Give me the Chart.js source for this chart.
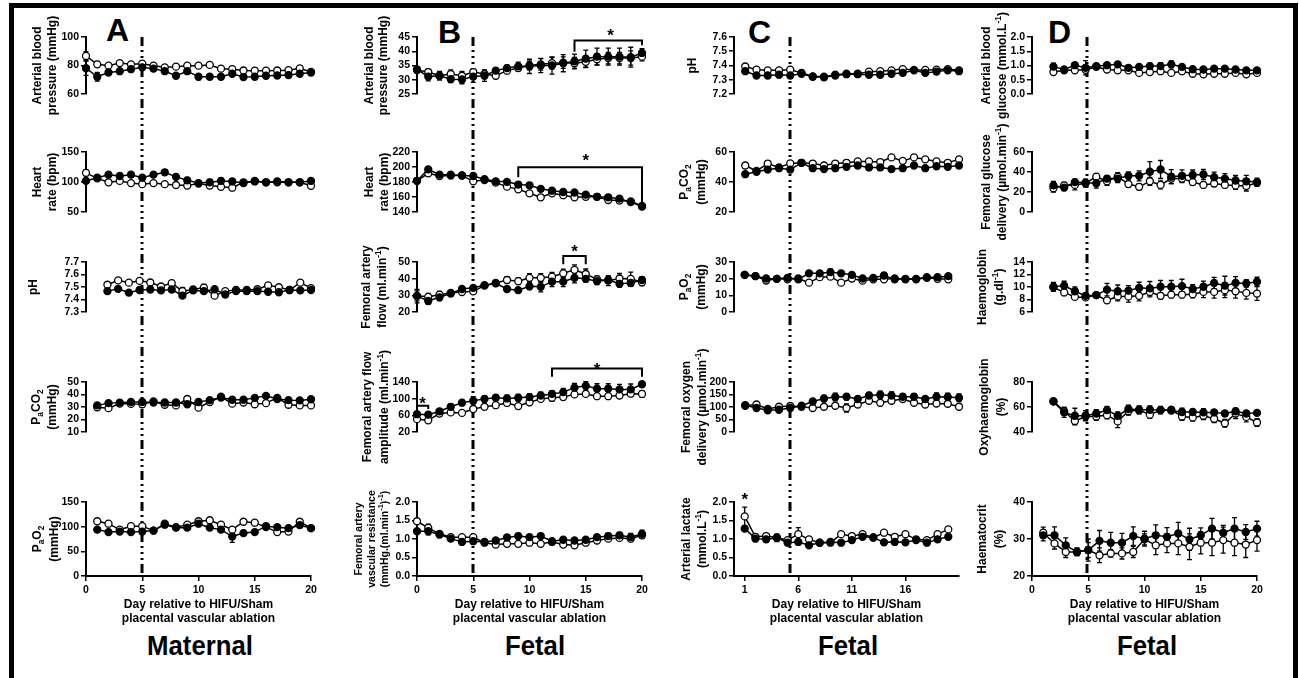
<!DOCTYPE html>
<html>
<head>
<meta charset="utf-8">
<script src="https://cdn.jsdelivr.net/npm/chart.js@4.4.0/dist/chart.umd.min.js"></script>
<style>
  body { margin: 0; background: #fff; width: 1299px; height: 678px; overflow: hidden; position: relative; }
  #frame { position: absolute; left: 9px; top: 3px; width: 1279px; height: 700px; border: 5px solid #000; }
  canvas { position: absolute; }
  .lbl { position: absolute; font-family: "Liberation Sans", Arial, sans-serif; font-weight: bold; color: #000; line-height: 1; white-space: nowrap; }
  .letter { font-size: 32px; }
  .group { font-size: 28px; width: 200px; text-align: center; transform: scaleX(0.92); }
</style>
</head>
<body>
<div id="frame"></div>
<div class="lbl letter" style="left:106px;top:14px">A</div>
<div class="lbl letter" style="left:438px;top:16px">B</div>
<div class="lbl letter" style="left:748px;top:16px">C</div>
<div class="lbl letter" style="left:1048px;top:16px">D</div>
<div class="lbl group" style="left:100px;top:632px">Maternal</div>
<div class="lbl group" style="left:435px;top:632px">Fetal</div>
<div class="lbl group" style="left:748px;top:632px">Fetal</div>
<div class="lbl group" style="left:1047px;top:632px">Fetal</div>
<script>
// days on the x axis
const days0 = [0, 1, 2, 3, 4, 5, 6, 7, 8, 9, 10, 11, 12, 13, 14, 15, 16, 17, 18, 19, 20];
const days1 = [1, 2, 3, 4, 5, 6, 7, 8, 9, 10, 11, 12, 13, 14, 15, 16, 17, 18, 19, 20];
const xTicksDay = [0, 5, 10, 15, 20];
const xTicksC = [1, 6, 11, 16];
const xTitle = ['Day relative to HIFU/Sham', 'placental vascular ablation'];

// A - maternal
const aBpHifu = [78.1, 72.1, 75.1, 76.0, 77.4, 78.7, 77.8, 76.0, 72.8, 76.0, 72.1, 72.1, 72.1, 74.2, 71.9, 72.1, 72.8, 73.0, 73.3, 74.2, 75.1];
const aBpHifuErr = [5, 3, 2, 1, 1, 1.5, 1, 1, 1, 1, 2, 1, 1, 1, 1, 1, 1, 1, 1, 1, 1];
const aBpSham = [86.7, 80.8, 79.9, 81.7, 80.8, 81.3, 79.9, 78.7, 79.2, 79.9, 79.9, 80.4, 77.8, 77.4, 76.5, 76.4, 76.4, 76.5, 76.7, 78.0, 75.5];
const aBpShamErr = [3, 2, 1.5, 1.5, 1.5, 2, 1.5, 1.5, 1, 1, 1, 1, 1.5, 1.5, 1.5, 1.5, 1.5, 1.5, 1.5, 1.5, 1.5];

const aHrHifu = [101.8, 107.2, 112.2, 110.0, 112.2, 107.2, 112.2, 116.2, 108.6, 102.7, 98.2, 99.5, 101.8, 100.9, 98.2, 101.8, 99.5, 100.9, 99.5, 99.5, 101.8];
const aHrHifuErr = [4, 4, 3, 3, 3, 4, 3, 4, 4, 5, 4, 5, 5, 4, 3, 3, 3, 3, 3, 3, 4];
const aHrSham = [115.3, 106.0, 99.5, 101.8, 98.2, 96.4, 98.2, 96.4, 95.0, 94.0, 97.3, 94.0, 91.9, 90.5, 99.5, 100.9, 99.5, 99.5, 99.5, 99.5, 93.7];
const aHrShamErr = [5, 3, 5, 3, 3, 3, 3, 3, 3, 3, 3, 4, 3, 3, 3, 3, 3, 3, 3, 3, 3];

const aPhHifu = [7.467, 7.485, 7.455, 7.476, 7.480, 7.473, 7.480, 7.431, 7.473, 7.467, 7.482, 7.440, 7.467, 7.467, 7.467, 7.462, 7.458, 7.476, 7.473, 7.476];
const aPhHifuErr = [0.01, 0.01, 0.01, 0.01, 0.01, 0.01, 0.01, 0.015, 0.01, 0.01, 0.01, 0.01, 0.01, 0.01, 0.01, 0.01, 0.01, 0.01, 0.01, 0.01];
const aPhSham = [7.518, 7.553, 7.535, 7.549, 7.536, 7.504, 7.531, 7.467, 7.480, 7.495, 7.431, 7.467, 7.476, 7.476, 7.482, 7.513, 7.498, 7.476, 7.535, 7.491];
const aPhShamErr = [0.015, 0.01, 0.01, 0.01, 0.01, 0.01, 0.01, 0.03, 0.015, 0.025, 0.015, 0.01, 0.02, 0.01, 0.01, 0.01, 0.01, 0.01, 0.01, 0.01];

const aCo2Hifu = [31.3, 33.1, 33.5, 34.0, 34.0, 33.6, 33.6, 33.6, 32.2, 34.0, 35.5, 37.6, 35.8, 35.8, 37.3, 38.9, 36.4, 35.5, 35.3, 36.2];
const aCo2HifuErr = [1, 1, 1, 1, 1, 1.5, 1, 2, 1, 1, 1, 1, 1, 1, 1, 1, 1.5, 1, 1, 1];
const aCo2Sham = [29.8, 29.1, 32.7, 32.5, 32.2, 34.4, 31.8, 31.3, 36.4, 29.5, 34.0, 38.2, 32.7, 33.6, 32.2, 33.1, 37.3, 31.8, 31.3, 31.3];
const aCo2ShamErr = [1, 1, 1, 1, 2, 1, 1, 1, 1, 1.5, 1, 1, 1, 1, 1, 1, 1, 1, 1, 1];

const aO2Hifu = [94, 89, 90, 89, 90, 92, 104, 98, 98, 106, 98, 94, 80, 87, 89, 101, 99, 97, 103, 97];
const aO2HifuErr = [4, 3, 3, 3, 4, 3, 3, 3, 3, 3, 3, 3, 12, 3, 3, 3, 3, 3, 3, 3];
const aO2Sham = [111, 106, 94, 101, 101, 92, 106, 99, 104, 111, 113, 104, 94, 110, 108, 99, 89, 90, 110, 97];
const aO2ShamErr = [4, 4, 3, 4, 4, 3, 4, 3, 3, 4, 4, 3, 4, 5, 4, 3, 3, 3, 3, 3];

// B - fetal haemodynamics
const bBpHifu = [33.6, 31.1, 31.4, 30.2, 30.1, 31.1, 31.4, 33.2, 34.1, 34.7, 34.7, 35.0, 35.0, 35.8, 36.5, 37.4, 38.1, 38.1, 38.1, 37.9, 39.4];
const bBpHifuErr = [1, 1.5, 1.5, 1.2, 1.5, 2, 2, 1, 1, 1.5, 2.5, 2.5, 3, 3, 2.5, 3, 3, 3, 3, 3.5, 1.5];
const bBpSham = [33.4, 32.7, 31.4, 32.0, 31.4, 32.7, 32.0, 31.4, 33.2, 34.1, 35.0, 35.4, 35.8, 36.0, 35.8, 36.3, 37.2, 37.6, 37.6, 37.6, 38.1];
const bBpShamErr = [1, 1, 1, 1.5, 1.5, 1, 1.5, 1, 1, 1, 1.5, 2, 2, 2, 2, 2, 2, 2, 2, 2.5, 1.5];

const bHrHifu = [181.6, 196.9, 189.8, 189.8, 188.7, 188.0, 183.7, 180.9, 180.2, 176.6, 175.6, 170.9, 168.4, 166.7, 166.0, 163.1, 160.3, 159.6, 157.8, 153.2, 147.1];
const bHrHifuErr = [3, 3, 3, 3, 2, 2, 2, 2, 2, 2, 2, 2, 2, 2, 2, 2, 2, 2, 2, 2, 3];
const bHrSham = [181.6, 191.6, 188.0, 188.7, 188.7, 180.9, 182.7, 179.1, 173.8, 170.2, 164.9, 159.6, 164.9, 162.4, 159.6, 160.3, 160.3, 156.0, 155.3, 154.2, 148.2];
const bHrShamErr = [3, 3, 3, 3, 2, 3, 2, 2, 2, 2, 2, 2, 2, 2, 2, 2, 2, 2, 2, 2, 3];

const bFlowHifu = [29.5, 26.6, 28.8, 31.1, 33.8, 34.5, 36.1, 37.2, 33.8, 33.1, 35.4, 35.1, 38.2, 38.2, 40.5, 39.9, 38.5, 39.2, 36.9, 37.4, 39.2];
const bFlowHifuErr = [4, 2, 2, 1.5, 1, 1, 1, 1.5, 1.5, 1.5, 2, 3, 3, 3, 3, 2, 2, 2, 2, 2, 2];
const bFlowSham = [29.7, 29.1, 30.4, 31.5, 32.0, 32.4, 35.8, 37.4, 39.2, 38.5, 40.5, 40.5, 41.2, 43.2, 45.3, 42.8, 39.6, 38.8, 40.1, 39.9, 37.8];
const bFlowShamErr = [3, 2, 2, 1, 1, 1, 1, 1, 2, 2, 2.5, 2.5, 2.5, 2.5, 3, 3, 2, 3, 3, 4, 2];

const bAmpHifu = [62.7, 61.6, 69.7, 80.5, 90.3, 95.1, 99.5, 102.2, 100.5, 102.2, 103.8, 107.6, 111.4, 115.7, 126.5, 130.8, 123.8, 123.8, 122.2, 122.2, 134.6];
const bAmpHifuErr = [5, 6, 5, 6, 6, 10, 8, 6, 8, 8, 8, 8, 8, 9, 10, 10, 12, 12, 12, 13, 4];
const bAmpSham = [50.8, 48.1, 64.3, 67.0, 65.9, 75.1, 80.5, 84.3, 89.7, 82.2, 91.4, 99.5, 102.2, 103.8, 110.3, 111.4, 105.9, 105.9, 107.6, 111.9, 111.4];
const bAmpShamErr = [5, 4, 4, 4, 4, 4, 4, 4, 6, 4, 6, 6, 8, 6, 6, 6, 5, 5, 6, 6, 8];

const bResHifu = [1.21, 1.21, 1.12, 1.01, 0.92, 0.94, 0.92, 0.96, 1.04, 1.08, 1.05, 1.08, 0.94, 0.98, 0.96, 0.98, 1.05, 1.08, 1.10, 1.05, 1.14];
const bResHifuErr = [0.05, 0.1, 0.08, 0.05, 0.05, 0.05, 0.05, 0.05, 0.05, 0.05, 0.05, 0.05, 0.05, 0.05, 0.05, 0.05, 0.05, 0.08, 0.08, 0.1, 0.1];
const bResSham = [1.48, 1.30, 1.14, 1.05, 1.05, 1.05, 0.90, 0.85, 0.87, 0.87, 0.90, 0.87, 0.92, 0.85, 0.83, 0.90, 0.96, 1.01, 1.03, 1.01, 1.10];
const bResShamErr = [0.06, 0.1, 0.05, 0.05, 0.05, 0.05, 0.04, 0.04, 0.04, 0.04, 0.04, 0.04, 0.04, 0.04, 0.04, 0.05, 0.06, 0.06, 0.06, 0.08, 0.08];

// C - fetal blood gases
const cPhHifu = [7.360, 7.330, 7.330, 7.335, 7.330, 7.342, 7.321, 7.317, 7.330, 7.339, 7.339, 7.335, 7.335, 7.342, 7.348, 7.366, 7.348, 7.357, 7.366, 7.360];
const cPhHifuErr = [0.008, 0.008, 0.008, 0.008, 0.008, 0.008, 0.008, 0.008, 0.008, 0.008, 0.008, 0.008, 0.008, 0.008, 0.008, 0.008, 0.008, 0.008, 0.008, 0.008];
const cPhSham = [7.393, 7.371, 7.366, 7.366, 7.371, 7.348, 7.324, 7.321, 7.335, 7.342, 7.342, 7.357, 7.360, 7.366, 7.375, 7.369, 7.369, 7.371, 7.375, 7.366];
const cPhShamErr = [0.01, 0.01, 0.01, 0.01, 0.01, 0.01, 0.01, 0.01, 0.01, 0.01, 0.01, 0.01, 0.01, 0.01, 0.01, 0.01, 0.01, 0.01, 0.01, 0.01];

const cCo2Hifu = [45.2, 46.8, 48.3, 49.2, 48.3, 52.8, 49.2, 48.6, 49.2, 50.1, 51.0, 49.7, 49.7, 48.6, 49.2, 51.0, 49.2, 50.5, 50.1, 51.0];
const cCo2HifuErr = [1.5, 1, 1, 1, 1, 1, 1, 1, 1, 1, 1, 1, 1, 1, 1, 1, 1, 1, 1, 1];
const cCo2Sham = [51.0, 47.4, 52.3, 49.7, 52.4, 52.8, 52.3, 51.0, 52.3, 52.8, 53.7, 53.7, 53.3, 56.4, 54.1, 56.4, 55.1, 53.7, 52.8, 55.1];
const cCo2ShamErr = [1.5, 1, 1.5, 1, 1, 1, 1, 1, 1.5, 2, 1.5, 1.5, 1.5, 1.5, 1, 1.5, 1.5, 1.5, 1.5, 1.5];

const cO2Hifu = [22.3, 21.5, 20.1, 19.9, 20.5, 19.6, 23.2, 23.2, 23.9, 23.2, 22.3, 20.1, 20.5, 21.9, 19.6, 19.9, 19.9, 20.9, 20.9, 21.5];
const cO2HifuErr = [0.8, 0.8, 1, 0.8, 0.8, 0.8, 1.5, 1.5, 2, 1.2, 1, 0.8, 0.8, 1.5, 0.8, 0.8, 0.8, 0.8, 0.8, 0.8];
const cO2Sham = [22.3, 21.5, 18.9, 19.9, 19.6, 20.1, 17.6, 20.9, 21.2, 17.6, 20.1, 18.8, 19.6, 19.6, 20.1, 19.6, 19.6, 20.5, 19.9, 19.6];
const cO2ShamErr = [0.8, 0.8, 1.5, 0.8, 0.8, 0.8, 1, 1, 1, 1, 1, 1, 0.8, 0.8, 0.8, 0.8, 0.8, 0.8, 0.8, 0.8];

const cOxDelHifu = [107, 96, 87, 89, 96, 105, 122, 134, 140, 141, 132, 146, 149, 146, 141, 141, 132, 141, 140, 137];
const cOxDelHifuErr = [6, 6, 8, 8, 8, 8, 8, 12, 15, 12, 10, 12, 14, 14, 12, 12, 10, 15, 15, 15];
const cOxDelSham = [105, 110, 92, 101, 104, 101, 96, 101, 105, 96, 110, 125, 117, 125, 132, 117, 110, 114, 113, 101];
const cOxDelShamErr = [6, 6, 6, 6, 8, 6, 6, 6, 6, 16, 8, 8, 8, 8, 8, 6, 6, 6, 6, 6];

const cLacHifu = [1.28, 1.01, 0.99, 1.03, 0.90, 0.92, 0.83, 0.90, 0.92, 0.90, 0.97, 1.06, 1.04, 0.91, 0.92, 0.91, 0.97, 0.90, 0.99, 1.06];
const cLacHifuErr = [0.06, 0.08, 0.08, 0.1, 0.05, 0.06, 0.04, 0.04, 0.04, 0.04, 0.05, 0.05, 0.05, 0.05, 0.05, 0.05, 0.05, 0.06, 0.06, 0.05];
const cLacSham = [1.61, 1.06, 1.08, 1.04, 0.97, 1.13, 0.99, 0.90, 0.90, 1.13, 1.08, 1.13, 1.04, 1.17, 1.06, 1.13, 0.99, 0.97, 1.13, 1.26];
const cLacShamErr = [0.25, 0.05, 0.05, 0.05, 0.05, 0.18, 0.05, 0.05, 0.05, 0.05, 0.05, 0.05, 0.05, 0.05, 0.05, 0.05, 0.05, 0.05, 0.05, 0.05];

// D - fetal glucose and haemoglobin
const dGluHifu = [0.96, 0.86, 1.01, 0.92, 0.98, 1.01, 1.04, 0.92, 0.95, 0.98, 0.98, 1.04, 0.95, 0.87, 0.86, 0.89, 0.89, 0.86, 0.83, 0.83];
const dGluHifuErr = [0.12, 0.05, 0.08, 0.25, 0.05, 0.05, 0.08, 0.05, 0.05, 0.1, 0.12, 0.12, 0.05, 0.05, 0.05, 0.05, 0.05, 0.05, 0.05, 0.05];
const dGluSham = [0.77, 0.83, 0.83, 0.85, 0.95, 0.86, 0.83, 0.83, 0.74, 0.77, 0.80, 0.74, 0.80, 0.71, 0.69, 0.71, 0.71, 0.74, 0.69, 0.74];
const dGluShamErr = [0.06, 0.08, 0.05, 0.06, 0.05, 0.05, 0.05, 0.05, 0.05, 0.06, 0.05, 0.05, 0.05, 0.04, 0.04, 0.04, 0.04, 0.04, 0.04, 0.04];

const dGluDelHifu = [26.6, 24.4, 29.9, 29.3, 28.8, 33.4, 33.4, 36.2, 36.2, 40.3, 42.5, 35.3, 36.2, 37.0, 37.5, 34.8, 33.4, 31.5, 30.7, 29.9];
const dGluDelHifuErr = [4, 3, 3, 3, 5, 3, 4, 4, 5, 10, 9, 7, 6, 5, 5, 5, 5, 5, 6, 4];
const dGluDelSham = [23.8, 26.6, 27.1, 28.8, 35.3, 30.7, 35.3, 27.9, 25.2, 30.7, 27.1, 33.4, 33.4, 29.9, 27.1, 28.5, 27.1, 26.6, 26.0, 29.3];
const dGluDelShamErr = [4, 3, 5, 4, 3, 4, 4, 3, 3, 4, 4, 5, 4, 3, 3, 3, 3, 4, 5, 3];

const dHbHifu = [10.04, 10.22, 9.32, 8.59, 8.70, 9.57, 9.32, 9.42, 9.86, 9.78, 10.04, 10.04, 10.14, 9.68, 10.04, 10.65, 10.22, 10.65, 10.58, 10.86];
const dHbHifuErr = [0.7, 0.7, 0.7, 0.3, 0.3, 1.0, 1.0, 0.8, 0.9, 1.1, 1.0, 1.0, 1.1, 0.7, 0.9, 0.9, 1.5, 1.0, 0.6, 0.7];
const dHbSham = [9.93, 9.14, 8.41, 8.34, 8.70, 7.87, 8.49, 8.49, 8.59, 9.21, 8.59, 8.77, 8.77, 8.85, 9.21, 9.21, 9.50, 9.32, 9.06, 8.95];
const dHbShamErr = [0.6, 0.5, 0.4, 0.3, 0.4, 0.4, 0.7, 0.9, 0.8, 0.8, 0.5, 0.5, 0.5, 0.6, 0.9, 1.0, 1.2, 1.1, 1.0, 1.1];

const dOxyHifu = [64.3, 55.7, 53.0, 53.0, 54.8, 57.5, 53.0, 58.4, 57.8, 57.8, 57.5, 57.1, 56.0, 56.0, 55.7, 55.7, 54.8, 56.6, 54.8, 55.3];
const dOxyHifuErr = [1, 4, 6, 4, 3, 3, 3, 3, 3, 3, 2, 2, 3, 2, 3, 2, 2, 2, 2, 1];
const dOxySham = [64.7, 56.6, 48.8, 52.4, 52.4, 53.5, 48.5, 56.6, 57.5, 53.9, 57.5, 57.8, 52.4, 51.7, 53.0, 50.6, 47.0, 54.8, 52.1, 47.6];
const dOxyShamErr = [1, 3, 3, 3, 3, 3, 5, 3, 3, 3, 3, 2, 3, 3, 3, 3, 3, 4, 4, 3];

const dHctHifu = [31.0, 31.0, 28.3, 26.5, 27.0, 29.5, 29.0, 29.0, 30.8, 30.1, 31.0, 30.6, 31.5, 29.9, 31.0, 32.8, 31.7, 32.8, 31.9, 32.8];
const dHctHifuErr = [1.5, 2.3, 2.0, 1.0, 2.0, 2.8, 2.8, 2.5, 2.5, 2.0, 2.8, 2.5, 3.0, 3.0, 2.0, 2.8, 2.0, 3.0, 2.0, 2.0];
const dHctSham = [31.7, 28.8, 26.5, 26.5, 27.0, 25.6, 26.1, 26.1, 26.5, 29.9, 28.3, 28.8, 28.8, 27.9, 29.0, 29.0, 29.7, 29.0, 28.5, 29.7];
const dHctShamErr = [1.5, 1.5, 1.5, 1.0, 3.0, 2.0, 1.0, 1.5, 1.5, 1.5, 2.5, 2.5, 3.0, 3.5, 3.0, 3.5, 3.5, 3.5, 3.5, 3.0];

// layout
const FONT = '"Liberation Sans", Arial, sans-serif';
const plotW = 225, padR = 14;
const columns = {
  A: { left: 14, axisX: 86 },
  B: { left: 324, axisX: 417 },
  C: { left: 646, axisX: 734 },
  D: { left: 962, axisX: 1032 }
};
const rows = [
  { top: 10, height: 120, areaTop: 37, areaBottom: 112, lineFrom: 37 },
  { top: 120, height: 120, areaTop: 152, areaBottom: 226, lineFrom: 130 },
  { top: 225, height: 135, areaTop: 262, areaBottom: 336, lineFrom: 240 },
  { top: 345, height: 135, areaTop: 382, areaBottom: 456, lineFrom: 360 },
  { top: 470, height: 208, areaTop: 502, areaBottom: 576, lineFrom: 480 }
];

const panels = [
  { col: 'A', row: 0, title: ['Arterial blood', 'pressure (mmHg)'], titleX: [38, 53], y: [60, 100, 20, 0], x: [0, 20], days: days0, ablation: 5,
    hifu: aBpHifu, hifuErr: aBpHifuErr, sham: aBpSham, shamErr: aBpShamErr },
  { col: 'A', row: 1, title: ['Heart', 'rate (bpm)'], titleX: [38, 53], y: [50, 150, 50, 0], x: [0, 20], days: days0, ablation: 5,
    hifu: aHrHifu, hifuErr: aHrHifuErr, sham: aHrSham, shamErr: aHrShamErr },
  { col: 'A', row: 2, title: ['pH'], titleX: [34], y: [7.3, 7.7, 0.1, 1], x: [-1, 20], days: days1, ablation: 4.23,
    hifu: aPhHifu, hifuErr: aPhHifuErr, sham: aPhSham, shamErr: aPhShamErr },
  { col: 'A', row: 3, title: ['P_{a}CO_{2}', '(mmHg)'], titleX: [37, 53], y: [10, 50, 10, 0], x: [0, 20], days: days1, ablation: 5,
    hifu: aCo2Hifu, hifuErr: aCo2HifuErr, sham: aCo2Sham, shamErr: aCo2ShamErr },
  { col: 'A', row: 4, title: ['P_{a}O_{2}', '(mmHg)'], titleX: [38, 55], y: [0, 150, 50, 0], x: [0, 20], days: days1, ablation: 5, xTicks: xTicksDay,
    hifu: aO2Hifu, hifuErr: aO2HifuErr, sham: aO2Sham, shamErr: aO2ShamErr },

  { col: 'B', row: 0, title: ['Arterial blood', 'pressure (mmHg)'], titleX: [370, 384], y: [25, 45, 5, 0], x: [0, 20], days: days0, ablation: 5,
    hifu: bBpHifu, hifuErr: bBpHifuErr, sham: bBpSham, shamErr: bBpShamErr,
    sig: [{ from: 14, to: 20, top: 43.8, left: 39.8, right: 42.1 }], stars: [[17.2, 46.3]] },
  { col: 'B', row: 1, title: ['Heart', 'rate (bpm)'], titleX: [370, 385], y: [140, 220, 20, 0], x: [0, 20], days: days0, ablation: 5,
    hifu: bHrHifu, hifuErr: bHrHifuErr, sham: bHrSham, shamErr: bHrShamErr,
    sig: [{ from: 9, to: 20, top: 199.7, left: 186.2, right: 148.9 }], stars: [[15, 211]] },
  { col: 'B', row: 2, title: ['Femoral artery', 'flow (ml.min^{-1})'], titleX: [367, 383], y: [20, 50, 10, 0], x: [0, 20], days: days0, ablation: 5,
    hifu: bFlowHifu, hifuErr: bFlowHifuErr, sham: bFlowSham, shamErr: bFlowShamErr,
    sig: [{ from: 13, to: 15, top: 53.6, left: 48.6, right: 48.6 }], stars: [[14, 57.6]] },
  { col: 'B', row: 3, title: ['Femoral artery flow', 'amplitude (ml.min^{-1})'], titleX: [368, 385], y: [20, 140, 40, 0], x: [0, 20], days: days0, ablation: 5,
    hifu: bAmpHifu, hifuErr: bAmpHifuErr, sham: bAmpSham, shamErr: bAmpShamErr,
    sig: [{ from: 12, to: 20, top: 172.4, left: 152.4, right: 152.4 }, { from: 0, to: 1, top: 83.2, left: 75, right: 75 }],
    stars: [[16, 176], [0.5, 93]] },
  { col: 'B', row: 4, title: ['Femoral artery', 'vascular resistance', '(mmHg.(ml.min^{-1})^{-1})'], titleX: [359, 372, 385], titleSize: 10.5,
    y: [0, 2, 0.5, 1], x: [0, 20], days: days0, ablation: 5, xTicks: xTicksDay,
    hifu: bResHifu, hifuErr: bResHifuErr, sham: bResSham, shamErr: bResShamErr },

  { col: 'C', row: 0, title: ['pH'], titleX: [693], y: [7.2, 7.6, 0.1, 1], x: [0, 20], days: days1, ablation: 5,
    hifu: cPhHifu, hifuErr: cPhHifuErr, sham: cPhSham, shamErr: cPhShamErr },
  { col: 'C', row: 1, title: ['P_{a}CO_{2}', '(mmHg)'], titleX: [685, 702], y: [20, 60, 20, 0], x: [0, 20], days: days1, ablation: 5,
    hifu: cCo2Hifu, hifuErr: cCo2HifuErr, sham: cCo2Sham, shamErr: cCo2ShamErr },
  { col: 'C', row: 2, title: ['P_{a}O_{2}', '(mmHg)'], titleX: [685, 702], y: [0, 30, 10, 0], x: [0, 21], days: days1, ablation: 5.23,
    hifu: cO2Hifu, hifuErr: cO2HifuErr, sham: cO2Sham, shamErr: cO2ShamErr },
  { col: 'C', row: 3, title: ['Femoral oxygen', 'delivery (\u00b5mol.min^{-1})'], titleX: [687, 703], y: [0, 200, 50, 0], x: [0, 20], days: days1, ablation: 5,
    hifu: cOxDelHifu, hifuErr: cOxDelHifuErr, sham: cOxDelSham, shamErr: cOxDelShamErr },
  { col: 'C', row: 4, title: ['Arterial lactate', '(mmol.L^{-1})'], titleX: [687, 703], y: [0, 2, 0.5, 1], x: [0, 21], days: days1, ablation: 5.23, xTicks: xTicksC,
    hifu: cLacHifu, hifuErr: cLacHifuErr, sham: cLacSham, shamErr: cLacShamErr, stars: [[1, 2.14]] },

  { col: 'D', row: 0, title: ['Arterial blood', 'glucose (mmol.L^{-1})'], titleX: [987, 1003], y: [0, 2, 0.5, 1], x: [-1, 20], days: days1, ablation: 4.13,
    hifu: dGluHifu, hifuErr: dGluHifuErr, sham: dGluSham, shamErr: dGluShamErr },
  { col: 'D', row: 1, title: ['Femoral glucose', 'delivery (\u00b5mol.min^{-1})'], titleX: [987, 1003], y: [0, 60, 20, 0], x: [-1, 20], days: days1, ablation: 4.13,
    hifu: dGluDelHifu, hifuErr: dGluDelHifuErr, sham: dGluDelSham, shamErr: dGluDelShamErr },
  { col: 'D', row: 2, title: ['Haemoglobin', '(g.dl^{-1})'], titleX: [983, 1000], y: [6, 14, 2, 0], x: [-1, 20], days: days1, ablation: 4.13,
    hifu: dHbHifu, hifuErr: dHbHifuErr, sham: dHbSham, shamErr: dHbShamErr },
  { col: 'D', row: 3, title: ['Oxyhaemoglobin', '(%)'], titleX: [985, 1002], y: [40, 80, 20, 0], x: [-1, 20], days: days1, ablation: 4.13,
    hifu: dOxyHifu, hifuErr: dOxyHifuErr, sham: dOxySham, shamErr: dOxyShamErr },
  { col: 'D', row: 4, title: ['Haematocrit', '(%)'], titleX: [983, 1000], y: [20, 40, 10, 0], x: [0, 20], days: days1, ablation: 4.9, xTicks: xTicksDay,
    hifu: dHctHifu, hifuErr: dHctHifuErr, sham: dHctSham, shamErr: dHctShamErr }
];

// text with _{sub} and ^{sup} parts, centred on (x, y)
function drawRich(ctx, text, x, y, size) {
  const parts = [];
  const re = /([_^])\{([^}]*)\}/g;
  let last = 0, m;
  while ((m = re.exec(text))) {
    if (m.index > last) parts.push({ t: text.slice(last, m.index), k: '' });
    parts.push({ t: m[2], k: m[1] });
    last = re.lastIndex;
  }
  if (last < text.length) parts.push({ t: text.slice(last), k: '' });
  const fontFor = k => 'bold ' + (k ? size * 0.7 : size) + 'px ' + FONT;
  let w = 0;
  parts.forEach(p => { ctx.font = fontFor(p.k); p.w = ctx.measureText(p.t).width; w += p.w; });
  let cx = x - w / 2;
  parts.forEach(p => {
    ctx.font = fontFor(p.k);
    const dy = p.k === '_' ? size * 0.3 : p.k === '^' ? -size * 0.38 : 0;
    ctx.fillText(p.t, cx, y + dy);
    cx += p.w;
  });
}

function figPlugin(p, col, row) {
  const last = p.row === 4;
  return {
    id: 'fig',
    beforeDatasetsDraw(chart) {
      const { ctx, chartArea } = chart;
      const xs = chart.scales.x, ys = chart.scales.y;
      // ablation day line
      const vx = Math.round(xs.getPixelForValue(p.ablation));
      const y0 = row.lineFrom - row.top;
      const y1 = last ? chartArea.bottom : chart.height;
      ctx.save();
      ctx.strokeStyle = '#000';
      ctx.lineWidth = 3;
      ctx.setLineDash([9, 4, 2, 4, 2, 4, 2, 4]);
      ctx.lineDashOffset = row.lineFrom - 37;
      ctx.beginPath();
      ctx.moveTo(vx, y0);
      ctx.lineTo(vx, y1);
      ctx.stroke();
      ctx.restore();
      // error bars
      ctx.save();
      ctx.strokeStyle = '#000';
      ctx.lineWidth = 1.3;
      [[p.hifu, p.hifuErr], [p.sham, p.shamErr]].forEach(([vals, errs]) => {
        vals.forEach((v, i) => {
          const px = xs.getPixelForValue(p.days[i]);
          const ya = ys.getPixelForValue(v + errs[i]);
          const yb = ys.getPixelForValue(v - errs[i]);
          ctx.beginPath();
          ctx.moveTo(px, ya); ctx.lineTo(px, yb);
          ctx.moveTo(px - 2.5, ya); ctx.lineTo(px + 2.5, ya);
          ctx.moveTo(px - 2.5, yb); ctx.lineTo(px + 2.5, yb);
          ctx.stroke();
        });
      });
      ctx.restore();
    },
    afterDraw(chart) {
      const { ctx, chartArea } = chart;
      const xs = chart.scales.x, ys = chart.scales.y;
      ctx.save();
      ctx.fillStyle = '#000';
      ctx.strokeStyle = '#000';
      // y title
      ctx.textBaseline = 'middle';
      ctx.textAlign = 'left';
      const cy = (chartArea.top + chartArea.bottom) / 2;
      p.title.forEach((line, i) => {
        ctx.save();
        ctx.translate(p.titleX[i] - col.left, cy);
        ctx.rotate(-Math.PI / 2);
        drawRich(ctx, line, 0, 0, p.titleSize || 12);
        ctx.restore();
      });
      // x title
      if (last) {
        ctx.font = 'bold 12px ' + FONT;
        ctx.textAlign = 'center';
        const cx = (chartArea.left + chartArea.right) / 2;
        xTitle.forEach((line, i) => ctx.fillText(line, cx, chartArea.bottom + 29 + i * 14));
      }
      // significance brackets
      ctx.lineWidth = 2;
      (p.sig || []).forEach(s => {
        const xa = xs.getPixelForValue(s.from), xb = xs.getPixelForValue(s.to);
        const yt = ys.getPixelForValue(s.top);
        ctx.beginPath();
        ctx.moveTo(xa, ys.getPixelForValue(s.left));
        ctx.lineTo(xa, yt);
        ctx.lineTo(xb, yt);
        ctx.lineTo(xb, ys.getPixelForValue(s.right));
        ctx.stroke();
      });
      ctx.font = 'bold 17px ' + FONT;
      ctx.textAlign = 'center';
      (p.stars || []).forEach(([sx, sy]) => ctx.fillText('*', xs.getPixelForValue(sx), ys.getPixelForValue(sy) + 3));
      ctx.restore();
    }
  };
}

Chart.defaults.font.family = FONT;

panels.forEach(p => {
  const col = columns[p.col], row = rows[p.row];
  const last = p.row === 4;
  const yW = col.axisX - col.left;
  const cv = document.createElement('canvas');
  cv.width = yW + plotW + padR;
  cv.height = row.height;
  cv.style.left = col.left + 'px';
  cv.style.top = row.top + 'px';
  document.body.appendChild(cv);
  const below = row.top + row.height - row.areaBottom;
  const tickFont = { size: 10.5, weight: 'bold', family: FONT };
  const axisGrid = { display: true, drawOnChartArea: false, drawTicks: true, tickLength: 5, color: '#000', lineWidth: 1.5 };
  const toPoints = vals => vals.map((v, i) => ({ x: p.days[i], y: v }));
  new Chart(cv, {
    type: 'line',
    data: {
      datasets: [
        { label: 'HIFU', data: toPoints(p.hifu), borderColor: '#000', borderWidth: 1.5, pointRadius: 3.5,
          pointBackgroundColor: '#000', pointBorderColor: '#000', pointBorderWidth: 1.3, clip: false },
        { label: 'Sham', data: toPoints(p.sham), borderColor: '#000', borderWidth: 1.5, pointRadius: 3.5,
          pointBackgroundColor: '#fff', pointBorderColor: '#000', pointBorderWidth: 1.3, clip: false }
      ]
    },
    options: {
      responsive: false,
      animation: false,
      events: [],
      layout: { padding: { left: 0, right: padR, top: row.areaTop - row.top, bottom: last ? 0 : below } },
      plugins: { legend: { display: false }, tooltip: { enabled: false } },
      scales: {
        x: {
          type: 'linear',
          min: p.x[0],
          max: p.x[1],
          display: last,
          grid: axisGrid,
          border: { display: true, color: '#000', width: 2 },
          ticks: { font: tickFont, color: '#000', padding: 3, maxRotation: 0, autoSkip: false },
          afterBuildTicks: s => { if (p.xTicks) s.ticks = p.xTicks.map(v => ({ value: v })); },
          afterFit: s => { s.height = below; }
        },
        y: {
          type: 'linear',
          min: p.y[0],
          max: p.y[1],
          grid: axisGrid,
          border: { display: true, color: '#000', width: 2 },
          ticks: { stepSize: p.y[2], autoSkip: false, font: tickFont, color: '#000', padding: 2, callback: v => v.toFixed(p.y[3]) },
          afterFit: s => { s.width = yW; }
        }
      }
    },
    plugins: [figPlugin(p, col, row)]
  });
});
</script>
</body>
</html>
